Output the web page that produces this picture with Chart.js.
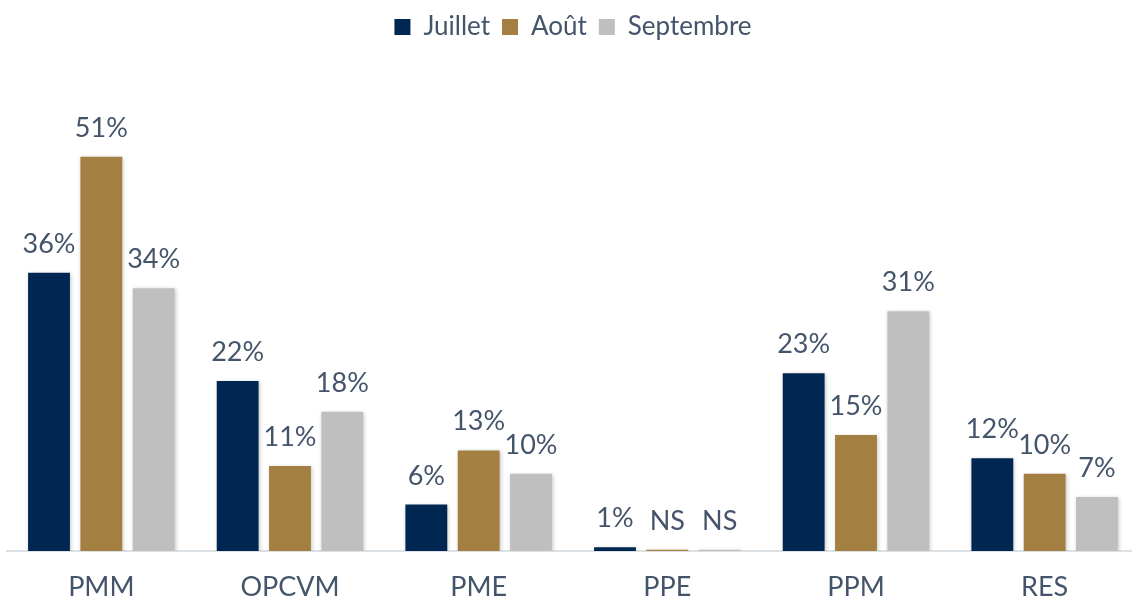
<!DOCTYPE html>
<html>
<head>
<meta charset="utf-8">
<script src="https://cdn.jsdelivr.net/npm/chart.js@4/dist/chart.umd.min.js"></script>
<style>
  html, body { margin: 0; padding: 0; background: #fff; overflow: hidden; }
  #wrap { width: 1142px; height: 601px; }
</style>
</head>
<body>
<div id="wrap"><canvas id="chart"></canvas></div>
<script>
// categories and series
let categories = ['PMM', 'OPCVM', 'PME', 'PPE', 'PPM', 'RES']
let juillet = [36, 22, 6, 0.5, 23, 12]
let aout = [51, 11, 13, 0.15, 15, 10]
let septembre = [34, 18, 10, 0.15, 31, 7]
// text shown above each bar (NS = non significatif)
let juilletLabels = ['36%', '22%', '6%', '1%', '23%', '12%']
let aoutLabels = ['51%', '11%', '13%', 'NS', '15%', '10%']
let septembreLabels = ['34%', '18%', '10%', 'NS', '31%', '7%']

let textColor = '#44546A'
let fontFamily = 'Lato, "Noto Sans", sans-serif'

// soft shadow behind the bars
let barShadow = {
    id: 'barShadow',
    beforeDatasetDraw(chart) {
        let ctx = chart.ctx
        ctx.save()
        ctx.shadowColor = 'rgba(0,0,0,0.22)'
        ctx.shadowBlur = 4
        ctx.shadowOffsetX = 1
        ctx.shadowOffsetY = 1
    },
    afterDatasetDraw(chart) {
        chart.ctx.restore()
    }
}

// value labels on top of the bars
let barLabels = {
    id: 'barLabels',
    afterDatasetsDraw(chart) {
        let ctx = chart.ctx
        ctx.save()
        ctx.font = '27px ' + fontFamily
        ctx.fillStyle = textColor
        ctx.textAlign = 'center'
        ctx.textBaseline = 'alphabetic'
        chart.data.datasets.forEach((ds, i) => {
            let meta = chart.getDatasetMeta(i)
            meta.data.forEach((bar, j) => {
                ctx.fillText(ds.valueLabels[j], bar.x, bar.y - 20)
            })
        })
        ctx.restore()
    }
}

let ctx = document.getElementById('chart').getContext('2d')

let chart = new Chart(ctx, {
    type: 'bar',
    data: {
        labels: categories,
        datasets: [
            { label: 'Juillet', data: juillet, valueLabels: juilletLabels, backgroundColor: '#002652' },
            { label: 'Août', data: aout, valueLabels: aoutLabels, backgroundColor: '#A38042' },
            { label: 'Septembre', data: septembre, valueLabels: septembreLabels, backgroundColor: '#BFBFBF' }
        ]
    },
    options: {
        responsive: true,
        maintainAspectRatio: false,
        animation: false,
        categoryPercentage: 0.832,
        barPercentage: 0.8,
        layout: { padding: { left: 7, right: 3, top: 2, bottom: 0 } },
        plugins: {
            tooltip: { enabled: false },
            legend: {
                position: 'top',
                labels: {
                    color: textColor,
                    font: { family: fontFamily, size: 26 },
                    boxWidth: 16,
                    boxHeight: 16,
                    padding: 12
                }
            }
        },
        scales: {
            x: {
                grid: { display: false },
                border: { display: true, color: '#DCE1E6', width: 2 },
                ticks: {
                    color: textColor,
                    font: { family: fontFamily, size: 27 },
                    padding: 12
                },
                afterFit(axis) {
                    axis.height = 50
                }
            },
            y: {
                display: false,
                min: 0,
                max: 64.8
            }
        }
    },
    plugins: [barShadow, barLabels]
})
</script>
</body>
</html>
